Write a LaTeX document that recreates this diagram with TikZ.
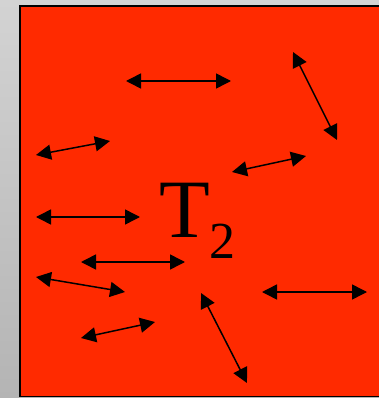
\documentclass[tikz,border=0pt]{standalone}
\usepackage{fontspec}
\setmainfont{Liberation Serif}
\usetikzlibrary{arrows.meta}
\definecolor{hotred}{RGB}{255,42,0}
\definecolor{frame}{RGB}{200,200,200}
\begin{document}
\begin{tikzpicture}[x=1pt,y=-1pt,>={Triangle[length=15pt,width=15pt]}]
\useasboundingbox (0,0) rectangle (379,398);
\shade[top color=frame!80!white,bottom color=frame!90!black] (0,0) rectangle (379,398);
\fill[hotred] (19,5) rectangle (379,397);
\draw[line width=1.6pt] (19.8,397) -- (19.8,5.8) -- (379,5.8);
\draw[line width=1.2pt] (19.8,396.6) -- (379,396.6);
% arrow ends
\coordinate (A1) at (126,81);  \coordinate (B1) at (231,81);
\coordinate (A2) at (293,52);  \coordinate (B2) at (337,140);
\coordinate (A3) at (36,155);  \coordinate (B3) at (110,141);
\coordinate (A4) at (232,172); \coordinate (B4) at (306,156);
\coordinate (A5) at (36,217);  \coordinate (B5) at (140,217);
\coordinate (A6) at (81,262);  \coordinate (B6) at (185,262);
\coordinate (A7) at (36,277);  \coordinate (B7) at (125,292);
\coordinate (A8) at (262,292); \coordinate (B8) at (367,292);
\coordinate (A9) at (81,338);  \coordinate (B9) at (155,322);
\coordinate (A10) at (201,293); \coordinate (B10) at (247,383);
\foreach \i in {1,...,10}
  \draw[<->,line width=1.5pt] (A\i) -- (B\i);
% temperature label
\node[anchor=base west,inner sep=0pt] (temp) at (159,237)
  {\fontsize{83}{83}\selectfont T\raisebox{-21pt}{\fontsize{52}{52}\selectfont 2}};
\end{tikzpicture}
\end{document}
